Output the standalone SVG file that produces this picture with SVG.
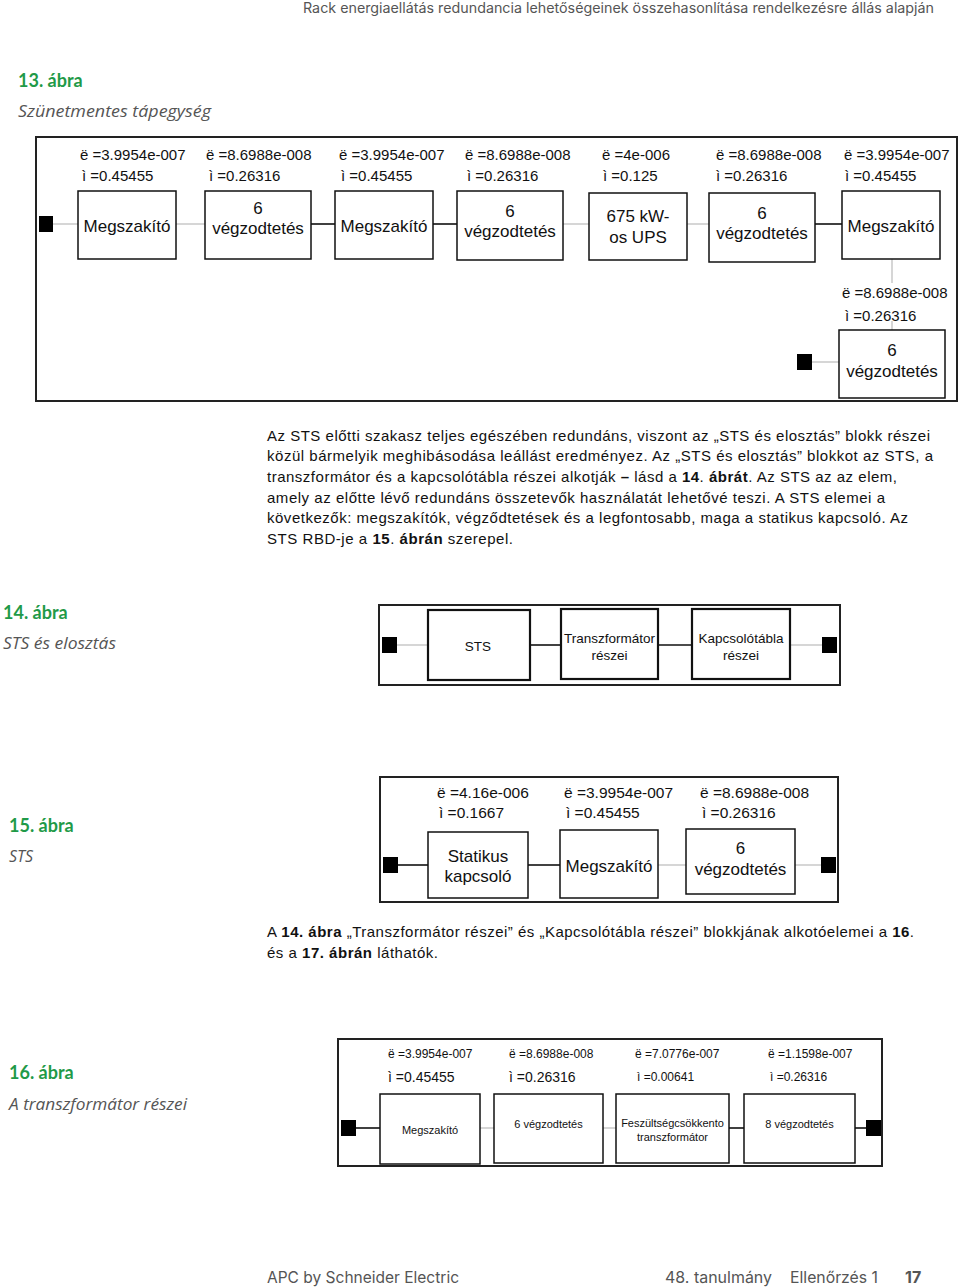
<svg xmlns="http://www.w3.org/2000/svg" width="960" height="1288" viewBox="0 0 960 1288">
<style>
.bg{fill:#fff}
.frame{fill:none;stroke:#222;stroke-width:2}
.box{fill:#fff;stroke:#111;stroke-width:1.5}
.box2{fill:#fff;stroke:#111;stroke-width:2.2}
.sq{fill:#000}
.lg{stroke:#bbb;stroke-width:1.2;fill:none}
.lk{stroke:#111;stroke-width:1.6;fill:none}
.t{font-family:"Liberation Sans",Arial,sans-serif;fill:#111}
.lab{font-size:15px}
.lab15{font-size:15.5px}
.bt{font-size:17px;text-anchor:middle}
.b14{font-size:13.5px;text-anchor:middle}
.s11{font-size:11px;text-anchor:middle}
.p{font-size:15px}
.fig{font-family:Lato,"Noto Sans",sans-serif;font-weight:bold;font-size:18px;fill:#1f9a48}
.cap{font-family:"Open Sans","Noto Sans",sans-serif;font-style:italic;font-size:16px;fill:#555}
.hdr{font-family:Inter,"Noto Sans",sans-serif;font-size:14px;fill:#555}
.ftr{font-family:Inter,"Noto Sans",sans-serif;font-size:16px;fill:#555}
</style>
<rect class="bg" x="0" y="0" width="960" height="1288"/>
<text class="hdr" x="934" y="13" text-anchor="end" textLength="631" lengthAdjust="spacingAndGlyphs">Rack energiaellátás redundancia lehetőségeinek összehasonlítása rendelkezésre állás alapján</text>

<!-- Figure 13 -->
<text class="fig" x="18" y="87">13. ábra</text>
<text class="cap" x="18" y="117" textLength="193" lengthAdjust="spacingAndGlyphs">Szünetmentes tápegység</text>
<rect class="frame" x="36" y="137" width="921" height="264"/>
<g id="connectors13">
<line class="lg" x1="53" y1="224" x2="78" y2="224"/>
<line class="lg" x1="176" y1="224" x2="205" y2="224"/>
<line class="lk" x1="311" y1="224" x2="335" y2="224"/>
<line class="lk" x1="433" y1="224" x2="457" y2="224"/>
<line class="lg" x1="563" y1="224" x2="589" y2="224"/>
<line class="lg" x1="687" y1="224" x2="709" y2="224"/>
<line class="lk" x1="815" y1="224" x2="842" y2="224"/>
<line class="lg" x1="892" y1="259" x2="892" y2="283"/>
<line class="lg" x1="892" y1="321" x2="892" y2="330"/>
<line class="lg" x1="812" y1="362" x2="839" y2="362"/>
</g>
<g id="n13-in"><rect class="sq" x="39" y="216" width="14" height="16"/></g>
<g id="n13-1">
<text class="t lab" x="80" y="160">ë =3.9954e-007</text>
<text class="t lab" x="82" y="181">ì =0.45455</text>
<rect class="box" x="78" y="191" width="98" height="68"/>
<text class="t bt" x="127" y="232">Megszakító</text>
</g>
<g id="n13-2">
<text class="t lab" x="206" y="160">ë =8.6988e-008</text>
<text class="t lab" x="209" y="181">ì =0.26316</text>
<rect class="box" x="205" y="191" width="106" height="68"/>
<text class="t bt" x="258" y="214">6</text>
<text class="t bt" x="258" y="234">végzodtetés</text>
</g>
<g id="n13-3">
<text class="t lab" x="339" y="160">ë =3.9954e-007</text>
<text class="t lab" x="341" y="181">ì =0.45455</text>
<rect class="box" x="335" y="191" width="98" height="68"/>
<text class="t bt" x="384" y="232">Megszakító</text>
</g>
<g id="n13-4">
<text class="t lab" x="465" y="160">ë =8.6988e-008</text>
<text class="t lab" x="467" y="181">ì =0.26316</text>
<rect class="box" x="457" y="191" width="106" height="69"/>
<text class="t bt" x="510" y="217">6</text>
<text class="t bt" x="510" y="237">végzodtetés</text>
</g>
<g id="n13-5">
<text class="t lab" x="602" y="160">ë =4e-006</text>
<text class="t lab" x="603" y="181">ì =0.125</text>
<rect class="box" x="589" y="193" width="98" height="67"/>
<text class="t bt" x="638" y="222">675 kW-</text>
<text class="t bt" x="638" y="243">os UPS</text>
</g>
<g id="n13-6">
<text class="t lab" x="716" y="160">ë =8.6988e-008</text>
<text class="t lab" x="716" y="181">ì =0.26316</text>
<rect class="box" x="709" y="193" width="106" height="69"/>
<text class="t bt" x="762" y="219">6</text>
<text class="t bt" x="762" y="239">végzodtetés</text>
</g>
<g id="n13-7">
<text class="t lab" x="844" y="160">ë =3.9954e-007</text>
<text class="t lab" x="845" y="181">ì =0.45455</text>
<rect class="box" x="842" y="191" width="98" height="68"/>
<text class="t bt" x="891" y="232">Megszakító</text>
</g>
<g id="n13-8">
<text class="t lab" x="842" y="298">ë =8.6988e-008</text>
<text class="t lab" x="845" y="321">ì =0.26316</text>
<rect class="box" x="839" y="330" width="106" height="68"/>
<text class="t bt" x="892" y="356">6</text>
<text class="t bt" x="892" y="377">végzodtetés</text>
</g>
<g id="n13-out"><rect class="sq" x="797" y="354" width="15" height="16"/></g>

<!-- Paragraph -->
<g class="t p">
<text x="267" y="441" textLength="663" lengthAdjust="spacing">Az STS előtti szakasz teljes egészében redundáns, viszont az „STS és elosztás” blokk részei</text>
<text x="267" y="461" textLength="666" lengthAdjust="spacing">közül bármelyik meghibásodása leállást eredményez. Az „STS és elosztás” blokkot az STS, a</text>
<text x="267" y="482" textLength="630" lengthAdjust="spacing">transzformátor és a kapcsolótábla részei alkotják <tspan font-weight="bold">–</tspan> lásd a <tspan font-weight="bold">14</tspan>. <tspan font-weight="bold">ábrát</tspan>. Az STS az az elem,</text>
<text x="267" y="503" textLength="618" lengthAdjust="spacing">amely az előtte lévő redundáns összetevők használatát lehetővé teszi. A STS elemei a</text>
<text x="267" y="523" textLength="641" lengthAdjust="spacing">következők: megszakítók, végződtetések és a legfontosabb, maga a statikus kapcsoló. Az</text>
<text x="267" y="544" textLength="246" lengthAdjust="spacing">STS RBD-je a <tspan font-weight="bold">15</tspan>. <tspan font-weight="bold">ábrán</tspan> szerepel.</text>
</g>

<!-- Figure 14 -->
<text class="fig" x="3" y="619">14. ábra</text>
<text class="cap" x="3" y="649" textLength="113" lengthAdjust="spacingAndGlyphs">STS és elosztás</text>
<rect class="frame" x="379" y="605" width="461" height="80"/>
<g id="connectors14">
<line class="lg" x1="397" y1="645" x2="428" y2="645"/>
<line class="lk" x1="530" y1="645" x2="561" y2="645"/>
<line class="lk" x1="658" y1="645" x2="692" y2="645"/>
<line class="lg" x1="790" y1="645" x2="822" y2="645"/>
</g>
<g id="n14-in"><rect class="sq" x="382" y="637" width="15" height="16"/></g>
<g id="n14-1"><rect class="box2" x="428" y="610" width="102" height="70"/><text class="t b14" x="478" y="651">STS</text></g>
<g id="n14-2"><rect class="box2" x="561" y="609" width="97" height="70"/><text class="t b14" x="609.5" y="643">Transzformátor</text><text class="t b14" x="609.5" y="660">részei</text></g>
<g id="n14-3"><rect class="box2" x="692" y="609" width="98" height="70"/><text class="t b14" x="741" y="643">Kapcsolótábla</text><text class="t b14" x="741" y="660">részei</text></g>
<g id="n14-out"><rect class="sq" x="822" y="637" width="15" height="16"/></g>

<!-- Figure 15 -->
<text class="fig" x="9" y="832">15. ábra</text>
<text class="cap" x="9" y="862">STS</text>
<rect class="frame" x="380" y="777" width="458" height="125"/>
<g id="connectors15">
<line class="lk" x1="398" y1="865" x2="428" y2="865"/>
<line class="lk" x1="528" y1="865" x2="560" y2="865"/>
<line class="lg" x1="658" y1="865" x2="686" y2="865"/>
<line class="lg" x1="795" y1="865" x2="821" y2="865"/>
</g>
<g id="n15-in"><rect class="sq" x="383" y="857" width="15" height="16"/></g>
<g id="n15-1">
<text class="t lab15" x="437" y="798">ë =4.16e-006</text>
<text class="t lab15" x="439" y="818">ì =0.1667</text>
<rect class="box" x="428" y="832" width="100" height="66"/>
<text class="t bt" x="478" y="862">Statikus</text>
<text class="t bt" x="478" y="882">kapcsoló</text>
</g>
<g id="n15-2">
<text class="t lab15" x="564" y="798">ë =3.9954e-007</text>
<text class="t lab15" x="566" y="818">ì =0.45455</text>
<rect class="box" x="560" y="830" width="98" height="68"/>
<text class="t bt" x="609" y="872">Megszakító</text>
</g>
<g id="n15-3">
<text class="t lab15" x="700" y="798">ë =8.6988e-008</text>
<text class="t lab15" x="702" y="818">ì =0.26316</text>
<rect class="box" x="686" y="829" width="109" height="65"/>
<text class="t bt" x="740.5" y="854">6</text>
<text class="t bt" x="740.5" y="875">végzodtetés</text>
</g>
<g id="n15-out"><rect class="sq" x="821" y="857" width="15" height="16"/></g>

<g class="t p">
<text x="267" y="937" textLength="647" lengthAdjust="spacing">A <tspan font-weight="bold">14. ábra</tspan> „Transzformátor részei” és „Kapcsolótábla részei” blokkjának alkotóelemei a <tspan font-weight="bold">16</tspan>.</text>
<text x="267" y="958" textLength="171" lengthAdjust="spacing">és a <tspan font-weight="bold">17. ábrán</tspan> láthatók.</text>
</g>

<!-- Figure 16 -->
<text class="fig" x="9" y="1079">16. ábra</text>
<text class="cap" x="9" y="1110" textLength="178" lengthAdjust="spacingAndGlyphs">A transzformátor részei</text>
<rect class="frame" x="338" y="1039" width="544" height="127"/>
<g id="connectors16">
<line class="lk" x1="356" y1="1128" x2="380" y2="1128"/>
<line class="lg" x1="480" y1="1128" x2="494" y2="1128"/>
<line class="lg" x1="603" y1="1128" x2="616" y2="1128"/>
<line class="lk" x1="729" y1="1128" x2="744" y2="1128"/>
<line class="lk" x1="855" y1="1128" x2="866" y2="1128"/>
</g>
<g id="n16-in"><rect class="sq" x="341" y="1120" width="15" height="16"/></g>
<g id="n16-1">
<text class="t" font-size="12" x="388" y="1058">ë =3.9954e-007</text>
<text class="t" font-size="14" x="388" y="1082">ì =0.45455</text>
<rect class="box" x="380" y="1094" width="100" height="70"/>
<text class="t s11" x="430" y="1134">Megszakító</text>
</g>
<g id="n16-2">
<text class="t" font-size="12" x="509" y="1058">ë =8.6988e-008</text>
<text class="t" font-size="14" x="509" y="1082">ì =0.26316</text>
<rect class="box" x="494" y="1094" width="109" height="69"/>
<text class="t s11" x="548.5" y="1128">6 végzodtetés</text>
</g>
<g id="n16-3">
<text class="t" font-size="12" x="635" y="1058">ë =7.0776e-007</text>
<text class="t" font-size="12" x="637" y="1081">ì =0.00641</text>
<rect class="box" x="616" y="1094" width="113" height="69"/>
<text class="t s11" x="672.5" y="1127">Feszültségcsökkento</text>
<text class="t s11" x="672.5" y="1141">transzformátor</text>
</g>
<g id="n16-4">
<text class="t" font-size="12" x="768" y="1058">ë =1.1598e-007</text>
<text class="t" font-size="12" x="770" y="1081">ì =0.26316</text>
<rect class="box" x="744" y="1094" width="111" height="69"/>
<text class="t s11" x="799.5" y="1128">8 végzodtetés</text>
</g>
<g id="n16-out"><rect class="sq" x="866" y="1120" width="15" height="16"/></g>

<!-- Footer -->
<text class="ftr" x="267" y="1283" textLength="192" lengthAdjust="spacingAndGlyphs">APC by Schneider Electric</text>
<text class="ftr" x="665" y="1283" textLength="107" lengthAdjust="spacingAndGlyphs">48. tanulmány</text>
<text class="ftr" x="790" y="1283" textLength="88" lengthAdjust="spacingAndGlyphs">Ellenőrzés 1</text>
<text class="ftr" x="905" y="1283" font-weight="bold" font-size="19" fill="#444">17</text>
</svg>
